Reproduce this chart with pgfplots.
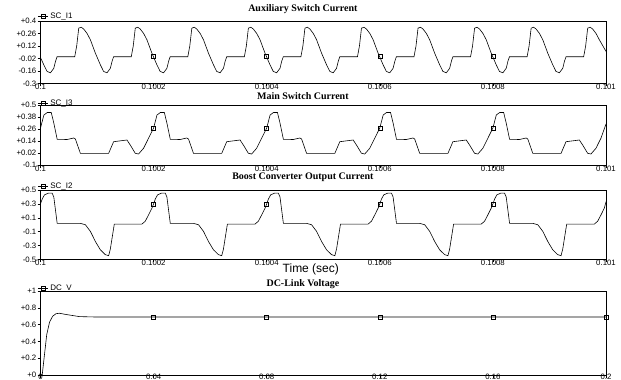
\documentclass[border=0pt]{standalone}
\usepackage{fontspec}
\setmainfont{Liberation Serif}
\setsansfont{Liberation Sans}
\usepackage{pgfplots}
\pgfplotsset{compat=1.18}
\pgfplotsset{
  psim/.style={
    scale only axis, width=565.5pt, xmin=0, xmax=1000,
    axis line style={line width=0.6pt},
    tick pos=left, tick align=outside, major tick length=3pt,
    tick style={line width=0.5pt, black},
    ticklabel style={font=\sffamily\fontsize{7.8}{8}\selectfont},
    yticklabel style={inner sep=1pt},
    xticklabel style={inner sep=0.5pt, yshift=3pt},
    /pgf/number format/assume math mode=true,
    title style={font=\bfseries\fontsize{10}{11}\selectfont, at={(0.464,1)}, anchor=center},
    legend style={at={(0,1)}, anchor=west, xshift=-3pt, draw=none, fill=none, inner sep=0pt,
      font=\sffamily\fontsize{8}{9}\selectfont},
    every axis plot/.append style={line width=0.6pt, black},
  },
  psimleg/.style={legend image code/.code={
    \draw[black,line width=0.6pt] (0pt,0pt) -- (10pt,0pt);
    \draw[black,line width=0.5pt] (3.2pt,-1.8pt) rectangle (6.8pt,1.8pt);}},
  psimmark/.style={only marks, mark=square, mark size=2pt, mark options={line width=0.5pt, black}, forget plot},
}
\begin{document}
\begin{tikzpicture}
\useasboundingbox (0,0) rectangle (621pt,380pt);
% Panel 1
\begin{axis}[psim, at={(40.5pt,359pt)}, anchor=north west, height=62.5pt,
  ymin=-0.3, ymax=0.4, ytick={-0.3,-0.16,-0.02,0.12,0.26,0.4},
  yticklabels={-0.3,-0.16,-0.02,+0.12,+0.26,+0.4},
  xtick={0,200,400,600,800,1000}, xticklabels={0.1,0.1002,0.1004,0.1006,0.1008,0.101},
  title={Auxiliary Switch Current}, title style={yshift=6pt},
  legend style={yshift=4.5pt}]
\addplot[psimleg] coordinates {
(0,-0.01) (5.8,-0.09) (11.6,-0.165) (17.6,-0.18) (23.5,-0.13) (26.6,-0.05) (29.3,0)
(60.5,0) (64,0.12) (67.6,0.32) (72,0.33) (76.4,0.31) (82.4,0.26) (88.2,0.19) (97,0.04) (105.8,-0.09) (111.6,-0.165) (117.6,-0.18) (123.5,-0.13) (126.6,-0.05) (129.3,0)
(160.5,0) (164,0.12) (167.6,0.32) (172,0.33) (176.4,0.31) (182.4,0.26) (188.2,0.19) (197,0.04) (205.8,-0.09) (211.6,-0.165) (217.6,-0.18) (223.5,-0.13) (226.6,-0.05) (229.3,0)
(260.5,0) (264,0.12) (267.6,0.32) (272,0.33) (276.4,0.31) (282.4,0.26) (288.2,0.19) (297,0.04) (305.8,-0.09) (311.6,-0.165) (317.6,-0.18) (323.5,-0.13) (326.6,-0.05) (329.3,0)
(360.5,0) (364,0.12) (367.6,0.32) (372,0.33) (376.4,0.31) (382.4,0.26) (388.2,0.19) (397,0.04) (405.8,-0.09) (411.6,-0.165) (417.6,-0.18) (423.5,-0.13) (426.6,-0.05) (429.3,0)
(460.5,0) (464,0.12) (467.6,0.32) (472,0.33) (476.4,0.31) (482.4,0.26) (488.2,0.19) (497,0.04) (505.8,-0.09) (511.6,-0.165) (517.6,-0.18) (523.5,-0.13) (526.6,-0.05) (529.3,0)
(560.5,0) (564,0.12) (567.6,0.32) (572,0.33) (576.4,0.31) (582.4,0.26) (588.2,0.19) (597,0.04) (605.8,-0.09) (611.6,-0.165) (617.6,-0.18) (623.5,-0.13) (626.6,-0.05) (629.3,0)
(660.5,0) (664,0.12) (667.6,0.32) (672,0.33) (676.4,0.31) (682.4,0.26) (688.2,0.19) (697,0.04) (705.8,-0.09) (711.6,-0.165) (717.6,-0.18) (723.5,-0.13) (726.6,-0.05) (729.3,0)
(760.5,0) (764,0.12) (767.6,0.32) (772,0.33) (776.4,0.31) (782.4,0.26) (788.2,0.19) (797,0.04) (805.8,-0.09) (811.6,-0.165) (817.6,-0.18) (823.5,-0.13) (826.6,-0.05) (829.3,0)
(860.5,0) (864,0.12) (867.6,0.32) (872,0.33) (876.4,0.31) (882.4,0.26) (888.2,0.19) (897,0.04) (905.8,-0.09) (911.6,-0.165) (917.6,-0.18) (923.5,-0.13) (926.6,-0.05) (929.3,0)
(960.5,0) (964,0.12) (967.6,0.32) (972,0.33) (976.4,0.31) (982.4,0.26) (988.2,0.19) (1000,0.06)
};
\addlegendentry{SC\_I1}
\addplot[psimmark] coordinates {(200,0.0) (400,0.0) (600,0.0) (800,0.0)};
\end{axis}
% Panel 2
\begin{axis}[psim, at={(40.5pt,275pt)}, anchor=north west, height=60pt,
  ymin=-0.1, ymax=0.5, ytick={-0.1,0.02,0.14,0.26,0.38,0.5},
  yticklabels={-0.1,+0.02,+0.14,+0.26,+0.38,+0.5},
  xtick={0,200,400,600,800,1000}, xticklabels={0.1,0.1002,0.1004,0.1006,0.1008,0.101},
  title={Main Switch Current}, title style={yshift=3pt},
  legend style={yshift=2pt}]
\addplot[psimleg] coordinates {
(0,0.27) (6,0.40) (12,0.425) (19,0.425) (23.5,0.32) (29.5,0.157) (47,0.155) (58.7,0.17) (61.7,0.16) (70.5,0.017) (120.5,0.017) (129.3,0.133) (152.9,0.15) (158.7,0.10) (167.6,0.017) (173.4,0.01) (182.2,0.067) (191,0.167)
(200,0.27) (206,0.40) (212,0.425) (219,0.425) (223.5,0.32) (229.5,0.157) (247,0.155) (258.7,0.17) (261.7,0.16) (270.5,0.017) (320.5,0.017) (329.3,0.133) (352.9,0.15) (358.7,0.10) (367.6,0.017) (373.4,0.01) (382.2,0.067) (391,0.167)
(400,0.27) (406,0.40) (412,0.425) (419,0.425) (423.5,0.32) (429.5,0.157) (447,0.155) (458.7,0.17) (461.7,0.16) (470.5,0.017) (520.5,0.017) (529.3,0.133) (552.9,0.15) (558.7,0.10) (567.6,0.017) (573.4,0.01) (582.2,0.067) (591,0.167)
(600,0.27) (606,0.40) (612,0.425) (619,0.425) (623.5,0.32) (629.5,0.157) (647,0.155) (658.7,0.17) (661.7,0.16) (670.5,0.017) (720.5,0.017) (729.3,0.133) (752.9,0.15) (758.7,0.10) (767.6,0.017) (773.4,0.01) (782.2,0.067) (791,0.167)
(800,0.27) (806,0.40) (812,0.425) (819,0.425) (823.5,0.32) (829.5,0.157) (847,0.155) (858.7,0.17) (861.7,0.16) (870.5,0.017) (920.5,0.017) (929.3,0.133) (952.9,0.15) (958.7,0.10) (967.6,0.017) (973.4,0.01) (982.2,0.067) (991,0.167)
(1000,0.31)
};
\addlegendentry{SC\_I3}
\addplot[psimmark] coordinates {(200,0.27) (400,0.27) (600,0.27) (800,0.27)};
\end{axis}
% Panel 3
\begin{axis}[psim, at={(40.5pt,190pt)}, anchor=north west, height=69.5pt,
  ymin=-0.5, ymax=0.5, ytick={-0.5,-0.3,-0.1,0.1,0.3,0.5},
  yticklabels={-0.5,-0.3,-0.1,+0.1,+0.3,+0.5},
  xtick={0,200,400,600,800,1000}, xticklabels={0.1,0.1002,0.1004,0.1006,0.1008,0.101},
  title={Boost Converter Output Current}, title style={yshift=6.5pt},
  xlabel={Time (sec)}, xlabel style={at={(0.478,0)}, anchor=center, yshift=-10pt, font=\sffamily\fontsize{12}{13}\selectfont},
  legend style={yshift=4pt}]
\addplot[psimleg] coordinates {
(0,0.30) (3,0.37) (7,0.43) (14,0.455) (20.6,0.455) (23.5,0.40) (29.5,0.02) (70.5,0.02) (79.4,0) (88.2,-0.095) (97,-0.24) (105.8,-0.36) (114.6,-0.43) (120.5,-0.445) (123.5,-0.35) (130.5,0.01) (179.4,0.01) (185.2,0.05) (191,0.14) (197.1,0.24)
(200,0.30) (203,0.37) (207,0.43) (214,0.455) (220.6,0.455) (223.5,0.40) (229.5,0.02) (270.5,0.02) (279.4,0) (288.2,-0.095) (297,-0.24) (305.8,-0.36) (314.6,-0.43) (320.5,-0.445) (323.5,-0.35) (330.5,0.01) (379.4,0.01) (385.2,0.05) (391,0.14) (397.1,0.24)
(400,0.30) (403,0.37) (407,0.43) (414,0.455) (420.6,0.455) (423.5,0.40) (429.5,0.02) (470.5,0.02) (479.4,0) (488.2,-0.095) (497,-0.24) (505.8,-0.36) (514.6,-0.43) (520.5,-0.445) (523.5,-0.35) (530.5,0.01) (579.4,0.01) (585.2,0.05) (591,0.14) (597.1,0.24)
(600,0.30) (603,0.37) (607,0.43) (614,0.455) (620.6,0.455) (623.5,0.40) (629.5,0.02) (670.5,0.02) (679.4,0) (688.2,-0.095) (697,-0.24) (705.8,-0.36) (714.6,-0.43) (720.5,-0.445) (723.5,-0.35) (730.5,0.01) (779.4,0.01) (785.2,0.05) (791,0.14) (797.1,0.24)
(800,0.30) (803,0.37) (807,0.43) (814,0.455) (820.6,0.455) (823.5,0.40) (829.5,0.02) (870.5,0.02) (879.4,0) (888.2,-0.095) (897,-0.24) (905.8,-0.36) (914.6,-0.43) (920.5,-0.445) (923.5,-0.35) (930.5,0.01) (979.4,0.01) (985.2,0.05) (991,0.14) (997.1,0.24)
(1000,0.33)
};
\addlegendentry{SC\_I2}
\addplot[psimmark] coordinates {(200,0.29) (400,0.29) (600,0.29) (800,0.29)};
\end{axis}
% Panel 4
\begin{axis}[psim, at={(40.5pt,89pt)}, anchor=north west, height=84pt,
  xmin=0, xmax=0.2, ymin=0, ymax=1, ytick={0,0.2,0.4,0.6,0.8,1},
  yticklabels={+0,+0.2,+0.4,+0.6,+0.8,+1},
  xtick={0,0.04,0.08,0.12,0.16,0.2}, xticklabels={0,0.04,0.08,0.12,0.16,0.2},
  xticklabel style={yshift=1.5pt},
  title={DC-Link Voltage}, title style={yshift=1pt},
  legend style={yshift=2.5pt}]
\addplot[psimleg] coordinates {
(0,0) (0.0006,0) (0.0014,0.24) (0.0022,0.48) (0.0032,0.63) (0.0043,0.70) (0.0055,0.73) (0.0067,0.735) (0.0091,0.72) (0.0138,0.695) (0.02,0.69) (0.2,0.69)
};
\addlegendentry{DC\_V}
\addplot[psimmark] coordinates {(0.04,0.69) (0.08,0.69) (0.12,0.69) (0.16,0.69) (0.2,0.69)};
\end{axis}
\end{tikzpicture}
\end{document}
